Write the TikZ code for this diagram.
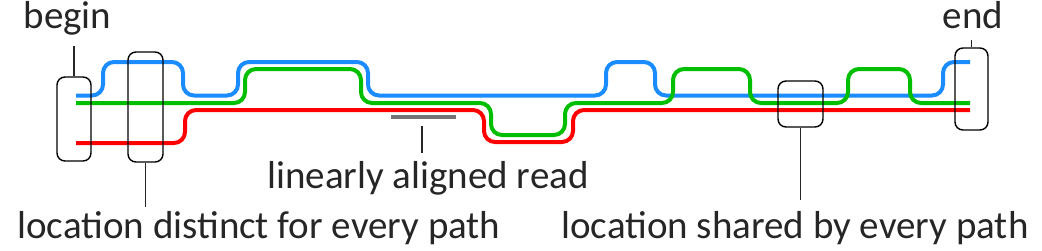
\documentclass[tikz,border=0pt]{standalone}
\usepackage{fontspec}
\setmainfont{Carlito}
\usepackage{tikz}
\usetikzlibrary{positioning}

\definecolor{pathblue}{RGB}{26,140,255}
\definecolor{pathgreen}{RGB}{0,190,0}
\definecolor{pathred}{RGB}{255,0,0}
\definecolor{labelgray}{RGB}{38,38,38}

\begin{document}
\begin{tikzpicture}[
  x=1pt,
  y=-1pt,
  font=\fontsize{39}{42}\selectfont,
  label/.style={
    text=labelgray,
    anchor=base,
    inner sep=0pt
  },
  walk/.style={
    line width=4pt,
    rounded corners=11pt
  },
  locbox/.style={
    draw=black,
    line width=1.4pt,
    rounded corners=8pt,
    inner sep=0pt
  },
  pin/.style={
    draw=labelgray,
    line width=1.4pt
  },
  readbar/.style={
    fill=black!55,
    inner sep=0pt,
    minimum width=65pt,
    minimum height=3.5pt
  }
]
\useasboundingbox (0,0) rectangle (1042,250);

% The three paths through the graph
\draw[walk,pathblue] (76,95.5) -- (103,95.5) -- (103,62) -- (183,62) -- (183,95.5)
  -- (238,95.5) -- (238,62) -- (368,62) -- (368,95.5) -- (606,95.5) -- (606,62)
  -- (655,62) -- (655,95.5) -- (943,95.5) -- (943,62) -- (970,62);
\draw[walk,pathgreen] (76,103) -- (245,103) -- (245,69) -- (361,69) -- (361,103)
  -- (491,103) -- (491,135) -- (565,135) -- (565,103) -- (673,103) -- (673,69)
  -- (750,69) -- (750,103) -- (848,103) -- (848,69) -- (910,69) -- (910,103)
  -- (970,103);
\draw[walk,pathred] (76,143) -- (185,143) -- (185,110) -- (484,110) -- (484,142)
  -- (573,142) -- (573,110) -- (970,110);

% Marked locations
\node[locbox,minimum width=34pt,minimum height=84pt] (beginbox) at (74,119) {};
\node[locbox,minimum width=35pt,minimum height=110pt] (distinctbox) at (145.5,107) {};
\node[locbox,minimum width=45pt,minimum height=46pt] (sharedbox) at (800.5,104) {};
\node[locbox,minimum width=33pt,minimum height=82pt] (endbox) at (971.5,89) {};

% Read aligned to the graph
\node[readbar] (read) at (423.5,117) {};

% Labels
\node[label] (beginlbl) at (67.5,28) {begin};
\node[label] (endlbl) at (973,28) {end};
\node[label] (readlbl) at (428,188) {linearly aligned read};
\node[label] (distinctlbl) at (259,238) {location distinct for every path};
\node[label] (sharedlbl) at (795,238) {location shared by every path};

\coordinate (begintip) at (74,46);
\coordinate (endtip) at (971.5,40);
\coordinate (readtop) at (422,126);
\coordinate (readtip) at (422,153);
\coordinate (distincttip) at (145.5,207);
\coordinate (sharedtip) at (800.5,200);

\draw[pin] (beginbox.north) -- (begintip);
\draw[pin] (endbox.north) -- (endtip);
\draw[pin] (readtop) -- (readtip);
\draw[pin] (distinctbox.south) -- (distincttip);
\draw[pin] (sharedbox.south) -- (sharedtip);

\end{tikzpicture}
\end{document}
